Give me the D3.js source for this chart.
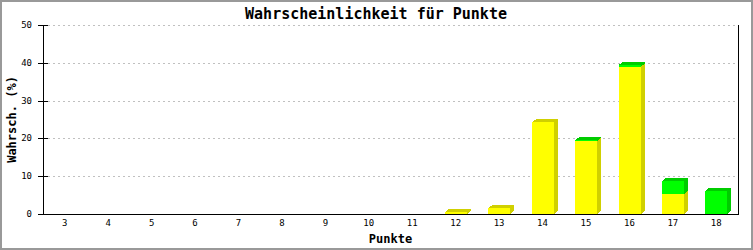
<!DOCTYPE html>
<html>
<head>
<meta charset="utf-8">
<script src="https://cdn.jsdelivr.net/npm/d3@7/dist/d3.min.js"></script>
<style>
    body { margin: 0; background: #ffffff; }
    svg { display: block; }
    text { font-family: "DejaVu Sans Mono", "Liberation Mono", monospace; }
</style>
</head>
<body>
<div id="chart"></div>
<script>
"use strict";

// points 3..18
let categories = ["3", "4", "5", "6", "7", "8", "9", "10", "11", "12", "13", "14", "15", "16", "17", "18"];
let yellowValues = [0, 0, 0, 0, 0, 0, 0, 0, 0, 0.5, 1.5, 24.3, 19.3, 39.0, 5.3, 0];
let greenValues = [0, 0, 0, 0, 0, 0, 0, 0, 0, 0, 0, 0, 0.2, 0.5, 3.4, 6.1];
let yTicks = [0, 10, 20, 30, 40, 50];

let titleText = "Wahrscheinlichkeit für Punkte";
let xTitle = "Punkte";
let yTitle = "Wahrsch. (%)";

let series = [
    { name: "yellow", values: yellowValues, front: "#ffff00", dark: "#d0d000" },
    { name: "green", values: greenValues, front: "#00ff00", dark: "#00cc00" }
];

let width = 753, height = 250;
let plot = { left: 43, right: 738, top: 25, bottom: 214 };
let depth = { dx: 4, dy: 3 };

let svg = d3.select("#chart").append("svg")
    .attr("width", width)
    .attr("height", height);

// outer frame
svg.append("rect")
    .attr("x", 1).attr("y", 1)
    .attr("width", width - 2).attr("height", height - 2)
    .style("fill", "#ffffff")
    .style("stroke", "#999999")
    .style("stroke-width", 2);

let x = d3.scaleBand()
    .domain(categories)
    .range([plot.left, plot.right])
    .paddingInner(0.5)
    .paddingOuter(0.25);

let y = d3.scaleLinear()
    .domain([0, 50])
    .range([plot.bottom, plot.top]);

// grid lines
svg.append("g")
    .selectAll("line")
    .data(yTicks.filter(d => d > 0))
    .enter().append("line")
    .attr("x1", plot.left + 5)
    .attr("x2", plot.right - 3)
    .attr("y1", d => Math.round(y(d)) + 0.5)
    .attr("y2", d => Math.round(y(d)) + 0.5)
    .style("stroke", "#c0c0c0")
    .style("stroke-dasharray", "2,3");

// bars (stacked, pseudo 3d)
let barsG = svg.append("g").attr("shape-rendering", "crispEdges");

categories.forEach(function(cat, i) {
    let x0 = Math.round(x(cat));
    let w = Math.round(x.bandwidth());
    let base = 0;
    let topIdx = -1;
    series.forEach((s, k) => { if (s.values[i] > 0) topIdx = k; });

    series.forEach(function(s, k) {
        let v = s.values[i];
        if (v <= 0) return;
        let yb = y(base), yt = y(base + v);
        base += v;

        barsG.append("rect")
            .attr("x", x0).attr("y", yt)
            .attr("width", w).attr("height", yb - yt)
            .style("fill", s.front);

        barsG.append("polygon")
            .attr("points", [
                [x0 + w, yb], [x0 + w + depth.dx, yb - depth.dy],
                [x0 + w + depth.dx, yt - depth.dy], [x0 + w, yt]
            ].join(" "))
            .style("fill", s.dark);

        // top face only on the highest segment
        if (k === topIdx) {
            barsG.append("polygon")
                .attr("points", [
                    [x0, yt], [x0 + depth.dx, yt - depth.dy],
                    [x0 + w + depth.dx, yt - depth.dy], [x0 + w, yt]
                ].join(" "))
                .style("fill", s.dark);
        }
    });
});

// axes lines
let axisG = svg.append("g").attr("shape-rendering", "crispEdges");

axisG.append("line")
    .attr("x1", plot.left + 0.5).attr("x2", plot.left + 0.5)
    .attr("y1", plot.top).attr("y2", plot.bottom + 1)
    .style("stroke", "#000");

axisG.append("line")
    .attr("x1", plot.right + 0.5).attr("x2", plot.right + 0.5)
    .attr("y1", plot.top).attr("y2", plot.bottom + 1)
    .style("stroke", "#000");

axisG.append("line")
    .attr("x1", plot.left).attr("x2", plot.right + 1)
    .attr("y1", plot.bottom + 0.5).attr("y2", plot.bottom + 0.5)
    .style("stroke", "#000");

// y ticks
axisG.selectAll(".ytick")
    .data(yTicks)
    .enter().append("line")
    .attr("class", "ytick")
    .attr("x1", plot.left - 5).attr("x2", plot.left + 5)
    .attr("y1", d => Math.round(y(d)) + 0.5)
    .attr("y2", d => Math.round(y(d)) + 0.5)
    .style("stroke", "#000");

svg.append("g")
    .selectAll("text")
    .data(yTicks)
    .enter().append("text")
    .attr("x", 32)
    .attr("y", d => y(d) + 3)
    .attr("text-anchor", "end")
    .style("font-size", "9px")
    .text(d => d);

// x tick labels
svg.append("g")
    .selectAll("text")
    .data(categories)
    .enter().append("text")
    .attr("x", d => x(d) + x.bandwidth() / 2)
    .attr("y", 226)
    .attr("text-anchor", "middle")
    .style("font-size", "9px")
    .text(d => d);

// titles
svg.append("text")
    .attr("x", 376)
    .attr("y", 19)
    .attr("text-anchor", "middle")
    .style("font-size", "15px")
    .style("font-weight", "bold")
    .text(titleText);

svg.append("text")
    .attr("x", (plot.left + plot.right) / 2)
    .attr("y", 243)
    .attr("text-anchor", "middle")
    .style("font-size", "12px")
    .style("font-weight", "bold")
    .text(xTitle);

svg.append("text")
    .attr("transform", "translate(16," + ((plot.top + plot.bottom) / 2) + ") rotate(-90)")
    .attr("text-anchor", "middle")
    .style("font-size", "12px")
    .style("font-weight", "bold")
    .text(yTitle);
</script>
</body>
</html>
